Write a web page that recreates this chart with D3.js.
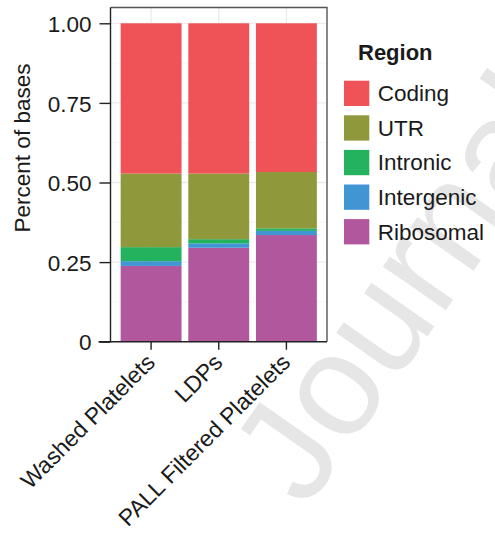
<!DOCTYPE html>
<html>
<head>
<meta charset="utf-8">
<script src="https://cdn.jsdelivr.net/npm/d3@7"></script>
<style>
  html, body { margin: 0; padding: 0; background: #fff; }
  svg { display: block; font-family: "Liberation Sans", Arial, Helvetica, sans-serif; }
</style>
</head>
<body>
<svg id="chart" width="495" height="542"></svg>
<script>
// ---- data ----
const samples = ["Washed Platelets", "LDPs", "PALL Filtered Platelets"];
const regions = ["Coding", "UTR", "Intronic", "Intergenic", "Ribosomal"];
const stackOrder = ["Ribosomal", "Intergenic", "Intronic", "UTR", "Coding"]; // bottom to top
const coding     = [0.472, 0.472, 0.467];
const utr        = [0.231, 0.206, 0.177];
const intronic   = [0.044, 0.013, 0.008];
const intergenic = [0.015, 0.014, 0.013];
const ribosomal  = [0.238, 0.295, 0.335];
const yTicks = [0, 0.25, 0.5, 0.75, 1.0];
const yTickLabels = ["0", "0.25", "0.50", "0.75", "1.00"];
const colors = ["#EF5358", "#8F983A", "#25B25F", "#4295D3", "#B1579E"];
const yTitle = "Percent of bases";
const legendTitle = "Region";
const watermark = "Journal";

const valueBy = { Coding: coding, UTR: utr, Intronic: intronic, Intergenic: intergenic, Ribosomal: ribosomal };
const table = samples.map((s, i) => {
  const row = { sample: s };
  regions.forEach(r => row[r] = valueBy[r][i]);
  return row;
});

// ---- layout ----
const svg = d3.select("#chart");
const panel = { left: 110.5, right: 327, top: 7.5, bottom: 341.7 };

// watermark (behind everything)
svg.append("text")
  .attr("transform", "translate(306,510) rotate(-55)")
  .attr("font-size", 145)
  .attr("fill", "#e6e6e6")
  .text(watermark);

const x = d3.scaleBand().domain(samples)
  .range([panel.left, panel.right]).paddingInner(0.1).paddingOuter(0.15);
const y = d3.scaleLinear().domain([0, 1]).range([panel.bottom, 23.3]);
const color = d3.scaleOrdinal().domain(regions).range(colors);

// panel background & grid
svg.append("rect").attr("x", panel.left).attr("y", panel.top)
  .attr("width", panel.right - panel.left).attr("height", panel.bottom - panel.top)
  .attr("fill", "#fff");
const minor = [0.125, 0.375, 0.625, 0.875];
svg.append("g").selectAll("line").data(minor).join("line")
  .attr("x1", panel.left).attr("x2", panel.right)
  .attr("y1", d => y(d)).attr("y2", d => y(d))
  .attr("stroke", "#f3f3f3").attr("stroke-width", 0.8);
svg.append("g").selectAll("line").data(yTicks).join("line")
  .attr("x1", panel.left).attr("x2", panel.right)
  .attr("y1", d => y(d)).attr("y2", d => y(d))
  .attr("stroke", "#ebebeb").attr("stroke-width", 1.3);
svg.append("g").selectAll("line").data(samples).join("line")
  .attr("x1", d => x(d) + x.bandwidth() / 2).attr("x2", d => x(d) + x.bandwidth() / 2)
  .attr("y1", panel.top).attr("y2", panel.bottom)
  .attr("stroke", "#ebebeb").attr("stroke-width", 1.3);

// bars
const series = d3.stack().keys(stackOrder)(table);
svg.append("g").selectAll("g").data(series).join("g")
  .attr("fill", d => color(d.key))
  .selectAll("rect").data(d => d).join("rect")
  .attr("x", d => x(d.data.sample))
  .attr("width", x.bandwidth())
  .attr("y", d => y(d[1]))
  .attr("height", d => y(d[0]) - y(d[1]));

// panel border (top/right)
svg.append("path")
  .attr("d", `M${panel.left},${panel.top}H${panel.right}V${panel.bottom}`)
  .attr("fill", "none").attr("stroke", "#555").attr("stroke-width", 1.4);

// y axis
const yAxis = d3.axisLeft(y).tickValues(yTicks)
  .tickFormat((d, i) => yTickLabels[i]).tickSize(11).tickPadding(8);
const gy = svg.append("g").attr("transform", `translate(${panel.left},0)`).call(yAxis);
gy.select(".domain").attr("d", `M0,${panel.top}V${panel.bottom}`).attr("stroke", "#222").attr("stroke-width", 1.4);
gy.selectAll(".tick line").attr("stroke", "#222").attr("stroke-width", 1.4);
gy.selectAll(".tick text").attr("font-size", 22.5).attr("fill", "#1a1a1a")
  .attr("font-family", "Liberation Sans, Arial, sans-serif").attr("dy", "0.36em");

// x axis
const xAxis = d3.axisBottom(x).tickSize(8).tickFormat("");
const gx = svg.append("g").attr("transform", `translate(0,${panel.bottom})`).call(xAxis);
gx.select(".domain").attr("d", `M${panel.left - 12},0H${panel.right}`).attr("stroke", "#222").attr("stroke-width", 1.4);
gx.selectAll(".tick line").attr("stroke", "#222").attr("stroke-width", 1.4);

svg.append("g").selectAll("text").data(samples).join("text")
  .attr("transform", d => `translate(${x(d) + x.bandwidth() / 2 - 6.5},${panel.bottom + 10.5}) rotate(-45)`)
  .attr("text-anchor", "end")
  .attr("dy", "0.72em")
  .attr("font-size", 23).attr("fill", "#1a1a1a")
  .text(d => d);

// y title
svg.append("text")
  .attr("transform", `translate(30,${148}) rotate(-90)`)
  .attr("text-anchor", "middle")
  .attr("font-size", 22.5).attr("fill", "#1a1a1a")
  .text(yTitle);

// legend
const lg = svg.append("g");
lg.append("text").attr("x", 358).attr("y", 60)
  .attr("font-size", 22).attr("font-weight", "bold").attr("fill", "#1a1a1a")
  .text(legendTitle);
const items = lg.selectAll("g.item").data(regions).join("g").attr("class", "item")
  .attr("transform", (d, i) => `translate(344,${80.7 + i * 34.6})`);
items.append("rect").attr("width", 25.3).attr("height", 25.3)
  .attr("fill", d => color(d));
items.append("text").attr("x", 33.7).attr("y", 20.5)
  .attr("font-size", 22.5).attr("fill", "#1a1a1a")
  .text(d => d);
</script>
</body>
</html>
